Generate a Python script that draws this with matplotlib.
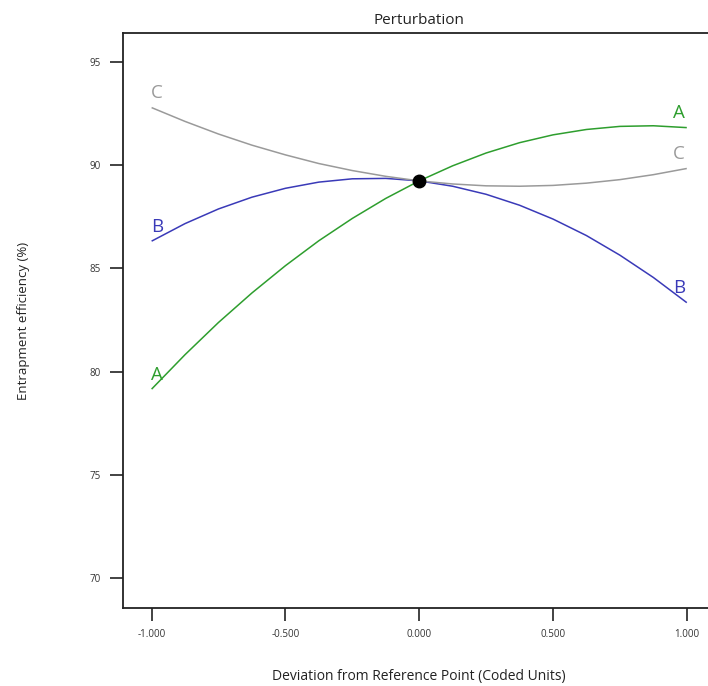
import matplotlib
matplotlib.use("Agg")
import matplotlib.pyplot as plt

# Coded deviation from the reference point
deviation = [-1.0, -0.875, -0.75, -0.625, -0.5, -0.375, -0.25, -0.125, 0.0,
             0.125, 0.25, 0.375, 0.5, 0.625, 0.75, 0.875, 1.0]

# Entrapment efficiency (%) for each factor
factor_a = [79.15, 80.82, 82.38, 83.81, 85.13, 86.34, 87.42, 88.39, 89.24,
            89.97, 90.59, 91.09, 91.47, 91.73, 91.88, 91.91, 91.82]
factor_b = [86.32, 87.17, 87.88, 88.45, 88.88, 89.18, 89.34, 89.36, 89.24,
            88.98, 88.59, 88.06, 87.39, 86.59, 85.64, 84.56, 83.34]
factor_c = [92.79, 92.12, 91.51, 90.97, 90.50, 90.08, 89.74, 89.46, 89.24,
            89.09, 89.00, 88.98, 89.02, 89.13, 89.30, 89.54, 89.84]

reference_x = 0.0
reference_y = 89.24

x_ticks = [-1.0, -0.5, 0.0, 0.5, 1.0]
x_tick_labels = ["-1.000", "-0.500", "0.000", "0.500", "1.000"]
y_ticks = [70, 75, 80, 85, 90, 95]

series = [
    ("A", factor_a, "#2e9e2e"),
    ("B", factor_b, "#3a3ab8"),
    ("C", factor_c, "#9a9a9a"),
]

plt.rcParams["font.family"] = ["Open Sans", "DejaVu Sans"]

W, H = 708, 686
fig = plt.figure(figsize=(W / 100, H / 100), dpi=100)
left_px, right_px = 122.7, 715.7
top_px, bottom_px = 33.3, 607.7
ax = fig.add_axes([left_px / W, 1 - bottom_px / H,
                   (right_px - left_px) / W, (bottom_px - top_px) / H])

for name, values, color in series:
    ax.plot(deviation, values, color=color, lw=1.1, solid_capstyle="butt",
            solid_joinstyle="round")
    ax.text(deviation[0] + 0.02, values[0] + 0.7, name, color=color,
            fontsize=13.5, ha="center", va="center")
    ax.text(deviation[-1] - 0.03, values[-1] + 0.72, name, color=color,
            fontsize=13.5, ha="center", va="center")

ax.plot([reference_x], [reference_y], "o", color="black", markersize=9, zorder=5)

ax.set_xlim(-1.108, 1.108)
ax.set_ylim(68.56, 96.39)
ax.set_xticks(x_ticks)
ax.set_xticklabels(x_tick_labels)
ax.set_yticks(y_ticks)

ax.tick_params(axis="both", direction="out", length=9.5, width=1.2,
               labelsize=7, labelcolor="#333333", color="#222222", pad=6)
for spine in ax.spines.values():
    spine.set_linewidth(1.3)
    spine.set_color("#222222")

ax.set_title("Perturbation", fontsize=11, pad=7, color="#222222")
ax.set_xlabel("Deviation from Reference Point (Coded Units)", fontsize=10,
              labelpad=21, color="#222222")
ax.set_ylabel("Entrapment efficiency (%)", fontsize=9.5, labelpad=43,
              color="#222222")

fig.savefig("out.png", dpi=100)
